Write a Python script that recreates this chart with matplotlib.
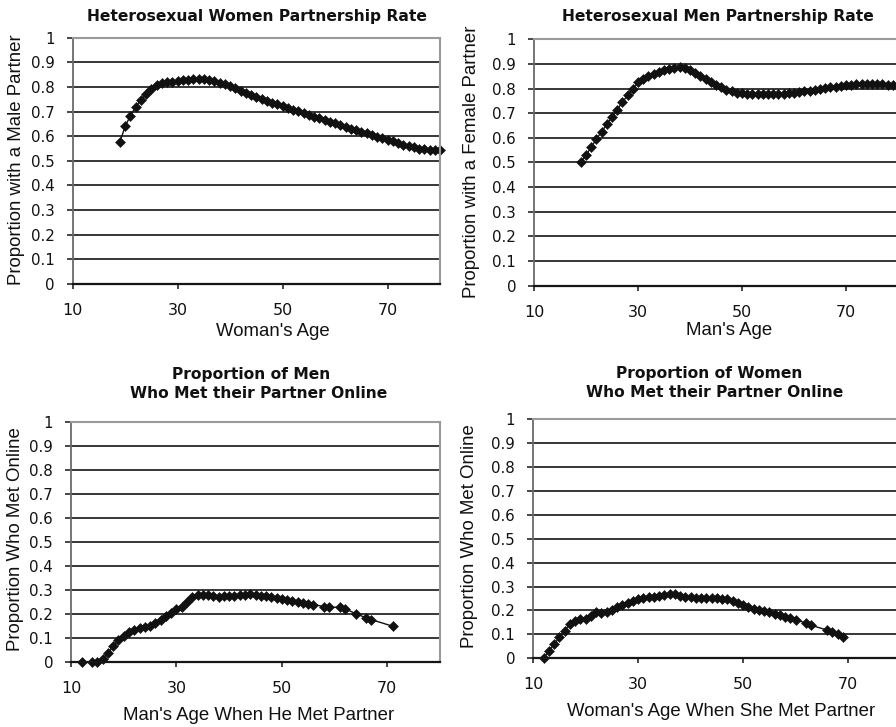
import matplotlib
matplotlib.use("Agg")
import matplotlib.pyplot as plt
from matplotlib.ticker import FuncFormatter, FixedLocator

# ---------------- data ----------------
women_age = list(range(19, 81))
women_partnered = [0.578, 0.640, 0.684, 0.718, 0.748, 0.772, 0.792, 0.807, 0.816, 0.820,
                   0.822, 0.824, 0.827, 0.830, 0.832, 0.833, 0.832, 0.829, 0.824, 0.818,
                   0.811, 0.803, 0.794, 0.785, 0.776, 0.767, 0.758, 0.750, 0.743, 0.736,
                   0.729, 0.722, 0.715, 0.708, 0.701, 0.694, 0.687, 0.680, 0.673, 0.666,
                   0.659, 0.652, 0.645, 0.638, 0.631, 0.625, 0.619, 0.612, 0.605, 0.598,
                   0.591, 0.585, 0.579, 0.573, 0.566, 0.560, 0.555, 0.550, 0.547, 0.545,
                   0.544, 0.544]

men_age = list(range(19, 81))
men_partnered = [0.500, 0.530, 0.563, 0.595, 0.625, 0.655, 0.685, 0.715, 0.745, 0.772,
                 0.800, 0.825, 0.840, 0.851, 0.860, 0.868, 0.875, 0.880, 0.884, 0.886,
                 0.884, 0.875, 0.864, 0.852, 0.840, 0.828, 0.816, 0.805, 0.796, 0.789,
                 0.784, 0.781, 0.779, 0.778, 0.777, 0.777, 0.778, 0.778, 0.779, 0.780,
                 0.781, 0.783, 0.786, 0.789, 0.792, 0.795, 0.799, 0.802, 0.805, 0.808,
                 0.811, 0.814, 0.816, 0.818, 0.819, 0.819, 0.819, 0.818, 0.817, 0.816,
                 0.815, 0.815]

men_met_age = [12, 14, 15, 16, 17, 18, 19, 20, 21, 22, 23, 24, 25, 26, 27, 28, 29, 30,
               31, 32, 33, 34, 35, 36, 37, 38, 39, 40, 41, 42, 43, 44, 45, 46, 47, 48,
               49, 50, 51, 52, 53, 54, 55, 56, 58, 59, 61, 62, 64, 66, 67, 71]
men_online = [0.0, 0.0, 0.0, 0.010, 0.035, 0.065, 0.090, 0.107, 0.122, 0.133, 0.140,
              0.145, 0.150, 0.160, 0.175, 0.190, 0.205, 0.218, 0.230, 0.250, 0.268,
              0.276, 0.279, 0.277, 0.274, 0.270, 0.272, 0.274, 0.275, 0.278, 0.280,
              0.282, 0.279, 0.275, 0.272, 0.270, 0.266, 0.263, 0.259, 0.255, 0.250,
              0.246, 0.241, 0.238, 0.230, 0.228, 0.226, 0.221, 0.200, 0.183, 0.175,
              0.148]

women_met_age = [12, 13, 14, 15, 16, 17, 18, 19, 20, 21, 22, 23, 24, 25, 26, 27, 28, 29,
                 30, 31, 32, 33, 34, 35, 36, 37, 38, 39, 40, 41, 42, 43, 44, 45, 46, 47,
                 48, 49, 50, 51, 52, 53, 54, 55, 56, 57, 58, 59, 60, 62, 63, 66, 67, 68, 69]
women_online = [0.0, 0.030, 0.058, 0.087, 0.115, 0.142, 0.157, 0.163, 0.166, 0.176,
                0.192, 0.190, 0.192, 0.203, 0.215, 0.222, 0.230, 0.240, 0.246, 0.250,
                0.255, 0.258, 0.261, 0.264, 0.270, 0.268, 0.262, 0.258, 0.255, 0.252,
                0.251, 0.250, 0.250, 0.250, 0.249, 0.246, 0.238, 0.232, 0.223, 0.215,
                0.208, 0.202, 0.197, 0.192, 0.186, 0.179, 0.173, 0.168, 0.160, 0.148,
                0.138, 0.118, 0.108, 0.100, 0.090]

x_ticks = [10, 30, 50, 70]
y_ticks = [0, 0.1, 0.2, 0.3, 0.4, 0.5, 0.6, 0.7, 0.8, 0.9, 1.0]

titles = [["Heterosexual Women Partnership Rate"],
          ["Heterosexual Men Partnership Rate"],
          ["Proportion of Men", "Who Met their Partner Online"],
          ["Proportion of Women", "Who Met their Partner Online"]]
xlabels = ["Woman's Age", "Man's Age", "Man's Age When He Met Partner",
           "Woman's Age When She Met Partner"]
ylabels = ["Proportion with a Male Partner", "Proportion with a Female Partner",
           "Proportion Who Met Online", "Proportion Who Met Online"]

# ---------------- layout (pixels) ----------------
W, H = 896, 727
fig = plt.figure(figsize=(W / 100, H / 100), dpi=100)
fig.patch.set_facecolor("white")

# left, top, right, bottom in pixel coordinates
boxes = [(72.7, 37.7, 440.2, 284.0),
         (534.0, 39.3, 898.0, 285.7),
         (71.0, 421.7, 440.0, 661.7),
         (533.0, 419.0, 900.5, 658.3)]
title_pos = [[(257, 21)], [(718, 21)],
             [(251, 379.5), (259, 398.5)],
             [(709, 378.5), (715, 397)]]
xlabel_pos = [(272.5, 336), (729, 335), (259, 720), (721, 716.5)]
ylabel_pos = [(17, 160), (471, 162), (16, 539), (469, 536)]

series = [(women_age, women_partnered), (men_age, men_partnered),
          (men_met_age, men_online), (women_met_age, women_online)]

fmt = FuncFormatter(lambda v, p: "0" if abs(v) < 1e-9 else ("1" if abs(v - 1) < 1e-9 else f"{v:.1f}"))

for i, (l, t, r, b) in enumerate(boxes):
    ax = fig.add_axes([l / W, 1 - b / H, (r - l) / W, (b - t) / H])
    ax.set_xlim(10, 80)
    ax.set_ylim(0, 1)
    ax.set_axisbelow(True)
    ax.yaxis.set_major_locator(FixedLocator(y_ticks))
    ax.xaxis.set_major_locator(FixedLocator(x_ticks))
    ax.yaxis.set_major_formatter(fmt)
    ax.yaxis.grid(True, color="#151515", lw=1.2)
    ax.xaxis.grid(False)
    for s in ("top", "right"):
        ax.spines[s].set_color("#9a9a9a")
        ax.spines[s].set_linewidth(1.5)
    ax.spines["left"].set_color("#6a6a6a")
    ax.spines["left"].set_linewidth(1.3)
    ax.spines["bottom"].set_color("#151515")
    ax.spines["bottom"].set_linewidth(1.6)
    ax.tick_params(axis="y", direction="out", length=4.3, width=1.1, color="#151515",
                   pad=8.5, labelsize=10.8, labelcolor="#111111")
    ax.tick_params(axis="x", direction="out", length=3.6, width=1.1, color="#151515",
                   pad=10.0, labelsize=11.5, labelcolor="#111111")
    xs, ys = series[i]
    ax.plot(xs, ys, color="#111111", lw=1.0, marker="D", markersize=5.0,
            markerfacecolor="#111111", markeredgecolor="#111111", markeredgewidth=0.4,
            clip_on=False if i != 1 else True)

    for line, (tx, ty) in zip(titles[i], title_pos[i]):
        fig.text(tx / W, 1 - ty / H, line, ha="center", va="baseline",
                 fontsize=11.2, fontweight="bold", family="DejaVu Sans", color="#111111")
    fig.text(xlabel_pos[i][0] / W, 1 - xlabel_pos[i][1] / H, xlabels[i], ha="center",
             va="baseline", fontsize=13.4, family="Liberation Sans", color="#111111")
    fig.text(ylabel_pos[i][0] / W, 1 - ylabel_pos[i][1] / H, ylabels[i], ha="center",
             va="center", rotation=90, fontsize=13.4, family="Liberation Sans",
             color="#111111")

fig.savefig("out.png", dpi=100)
